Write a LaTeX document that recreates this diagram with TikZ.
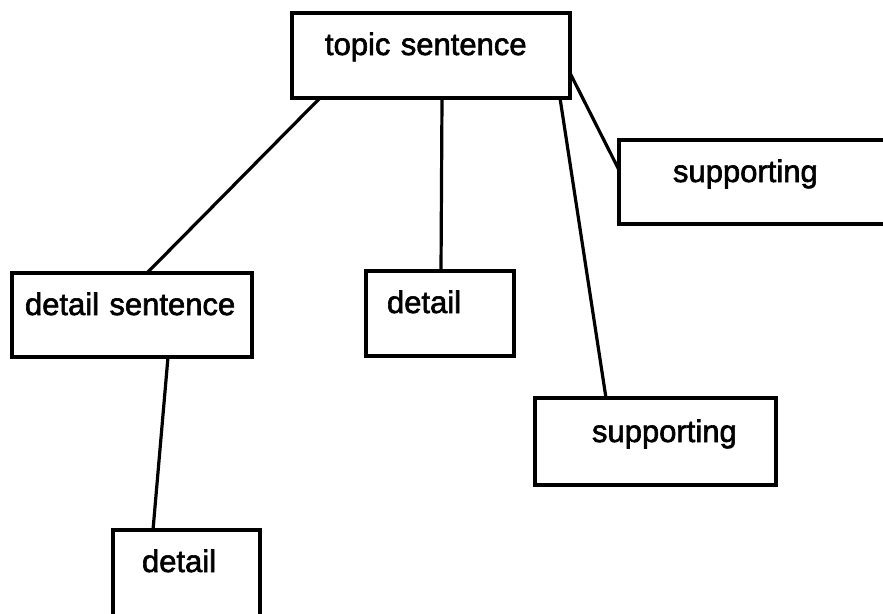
\documentclass[tikz,border=0pt]{standalone}
\usepackage{fontspec}
\setmainfont{Liberation Sans}
\newfontfamily\boxfont[FakeBold=2]{Liberation Sans}

\begin{document}
\begin{tikzpicture}[x=1pt,y=-1pt,
  box/.style={draw, line width=3.4pt, outer sep=0pt, inner xsep=0pt, inner ysep=0pt,
    anchor=north west, align=left, font=\boxfont\fontsize{31}{36}\selectfont},
  link/.style={line width=3.2pt}]
\useasboundingbox (0,0) rectangle (883,613);
\node [box, text width=278pt, text height=42pt, text depth=43pt] (topic) at (292,13) {\hspace*{33pt}topic~sentence};
\node [box, text width=330pt, text height=42pt, text depth=42pt] (sup1) at (619,140) {\hspace*{54pt}supporting};
\node [box, text width=240pt, text height=42pt, text depth=42pt] (dsent) at (12,273) {\hspace*{13pt}detail~sentence};
\node [box, text width=148pt, text height=42pt, text depth=43pt] (det1) at (366,271) {\hspace*{21pt}detail};
\node [box, text width=241pt, text height=44pt, text depth=43pt] (sup2) at (535,398) {\hspace*{57pt}supporting};
\node [box, text width=147pt, text height=42pt, text depth=52pt] (det2) at (113,530) {\hspace*{29pt}detail};
\draw [link] ([xshift=28pt]topic.south west) -- ([xshift=135pt]dsent.north west);
\draw [link] ([xshift=150pt]topic.south west) -- ([xshift=75pt]det1.north west);
\draw [link] ([xshift=268pt]topic.south west) -- ([xshift=71pt]sup2.north west);
\draw [link] ([yshift=-60pt]topic.north east) -- ([yshift=-30pt]sup1.north west);
\draw [link] ([xshift=156pt]dsent.south west) -- ([xshift=40pt]det2.north west);
\end{tikzpicture}
\end{document}
